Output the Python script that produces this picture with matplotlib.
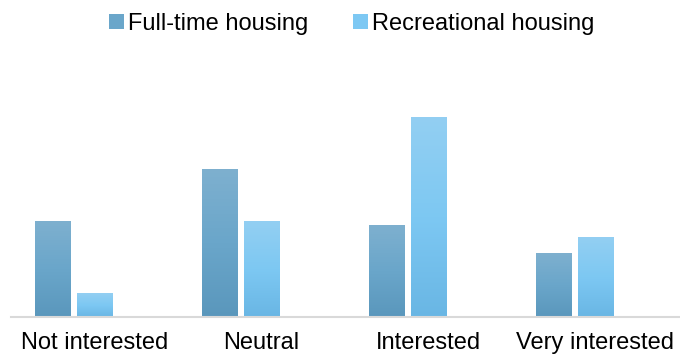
import numpy as np
import matplotlib.pyplot as plt
from matplotlib.colors import LinearSegmentedColormap

plt.rcParams['font.family'] = ['Liberation Sans', 'DejaVu Sans']

categories = ['Not interested', 'Neutral', 'Interested', 'Very interested']
full_time = [24, 37, 23, 16]        # % of respondents
recreational = [6, 24, 50, 20]      # % of respondents
series_names = ['Full-time housing', 'Recreational housing']

# vertical gradients, bottom -> middle -> top
dark_cmap = LinearSegmentedColormap.from_list('dark', ['#5a97bc', '#6aa6ca', '#7eb0cf'])
light_cmap = LinearSegmentedColormap.from_list('light', ['#69b6e4', '#7dc8f3', '#93cff2'])

fig = plt.figure(figsize=(6.8, 3.56), dpi=100)
ax = fig.add_axes([11 / 680, 39 / 356, 668 / 680, 239 / 356])

x = np.arange(len(categories))
w = 0.21
step = 0.25
grad = np.linspace(0, 1, 256).reshape(-1, 1)

for vals, cmap, off, name in [(full_time, dark_cmap, -step, series_names[0]),
                              (recreational, light_cmap, 0.0, series_names[1])]:
    bars = ax.bar(x + off, vals, width=w, color=cmap(0.5), label=name, zorder=1)
    for b in bars:
        x0, y0 = b.get_x(), b.get_y()
        ax.imshow(grad, cmap=cmap, origin='lower', aspect='auto',
                  extent=[x0, x0 + b.get_width(), y0, y0 + b.get_height()],
                  zorder=2, interpolation='bilinear')

ax.set_xlim(-0.5, len(categories) - 0.5)
ax.set_ylim(0, 60)
ax.set_xticks(x)
ax.set_xticklabels(categories, fontsize=17)
ax.tick_params(axis='x', length=0, pad=11)
ax.set_yticks([])
for s in ['top', 'right', 'left']:
    ax.spines[s].set_visible(False)
ax.spines['bottom'].set_color('#d9d9d9')
ax.spines['bottom'].set_linewidth(1.5)
ax.spines['bottom'].set_zorder(3)

handles, labels = ax.get_legend_handles_labels()
fig.legend(handles, labels, loc='center', bbox_to_anchor=(352 / 680, 1 - 24 / 356),
           ncol=2, frameon=False, fontsize=17, handlelength=0.6,
           handleheight=0.6, handletextpad=0.2, columnspacing=1.9,
           borderpad=0, borderaxespad=0)

fig.savefig('out.png', dpi=100)
